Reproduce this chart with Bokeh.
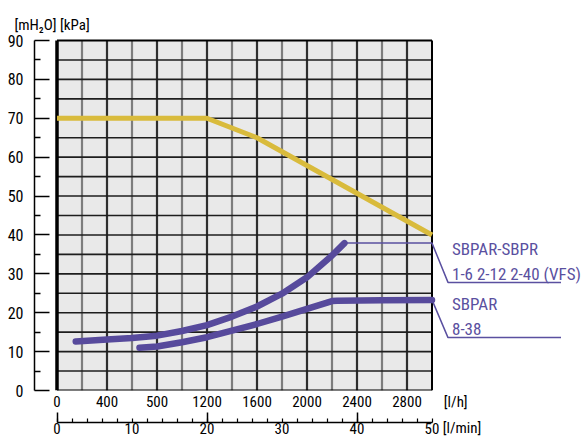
import subprocess
from bokeh.plotting import figure
from bokeh.models import Range1d, LinearAxis, FixedTicker
from bokeh.core.properties import value
from bokeh.embed import file_html
from bokeh.resources import INLINE

# ---- data ----
flow_yellow = [0, 1200, 1600, 3000]
head_yellow = [70, 70, 65, 40]

flow_sbpr = [150, 400, 600, 800, 1000, 1200, 1400, 1600, 1800, 2000, 2200, 2300]
head_sbpr = [12.6, 13.1, 13.5, 14.1, 15.3, 16.8, 19.0, 21.6, 24.9, 29.1, 34.7, 37.9]

flow_sbpar = [660, 800, 1000, 1200, 1400, 1600, 1800, 2000, 2200, 2240, 2600, 3000]
head_sbpar = [11.0, 11.3, 12.4, 13.7, 15.4, 17.1, 19.0, 21.0, 23.0, 23.1, 23.2, 23.3]

y_ticks = list(range(0, 91, 10))
y_minor = list(range(5, 90, 10))
lh_ticks = [0, 400, 800, 1200, 1600, 2000, 2400, 2800]
lh_labels = ["0", "400", "500", "1200", "1600", "2000", "2400", "2800"]
lh_unit = "[l/h]"
lmin_ticks = list(range(0, 51, 2))
lmin_label_ticks = [0, 10, 20, 30, 40, 50]
lmin_long = [0, 20, 40]
lmin_unit = "[l/min]"
y_unit = "[mH\u2082O] [kPa]"

series_names = ["SBPAR-SBPR", "1-6 2-12 2-40 (VFS)", "SBPAR", "8-38"]
series_label_y = [36.3, 30.0, 22.2, 15.8]
leader1_x = [2300, 3000, 3128, 4032]
leader1_y = [37.9, 37.9, 27.8, 27.8]
leader2_x = [3000, 3128, 4032]
leader2_y = [23.3, 13.6, 13.6]

X_MAX, Y_MAX = 3000, 90
grid_x = list(range(200, X_MAX, 200))
grid_y = list(range(5, Y_MAX, 5))


def pick_font(cands, default):
    try:
        out = subprocess.run(["fc-list", ":", "family"], capture_output=True, text=True).stdout
        names = set()
        for line in out.splitlines():
            for n in line.split(","):
                names.add(n.strip())
        for c in cands:
            if c in names:
                return c
    except Exception:
        pass
    return default


FONT_S = pick_font(["Roboto Condensed", "Archivo Narrow", "PT Sans Narrow",
                    "Fira Sans Condensed", "IBM Plex Sans Condensed", "Asap Condensed"], "Roboto")
FONT = value(FONT_S)

# ---- geometry (canvas px) ----
PX_X = 0.125          # px per l/h
PX_Y = 350 / 90       # px per mH2O
LEFT = 34             # left panel width (y axis line)
TOP = 33              # title panel height
ZERO_X = 56.5         # canvas x of flow 0
ZERO_Y = 390          # canvas y of head 0
FW = 584 - LEFT
FH = ZERO_Y - TOP
x0 = -(ZERO_X - LEFT) / PX_X
x1 = x0 + FW / PX_X
y1 = FH / PX_Y

PURPLE = "#574a9c"
PURPLE_T = "#5a50a0"
YELLOW = "#d9bb3c"

p = figure(frame_width=FW, frame_height=FH, output_backend="svg", toolbar_location=None,
           x_range=Range1d(x0, x1), y_range=Range1d(0, y1),
           x_axis_location=None, y_axis_location=None,
           min_border_left=LEFT, min_border_right=0, min_border_top=TOP, min_border_bottom=0)
p.outline_line_color = None
p.xgrid.visible = False
p.ygrid.visible = False
p.background_fill_color = "white"
p.border_fill_color = "white"

p.title.text = y_unit
p.title.align = "left"
p.title.vertical_align = "bottom"
p.title.offset = -(LEFT - 14)
p.title.standoff = 0
p.title.text_font = FONT_S
p.title.text_font_size = "15px"
p.title.text_font_style = "normal"
p.title.text_color = "black"

# plot area background
p.quad(left=[0], right=[X_MAX], bottom=[0], top=[Y_MAX], fill_color="#e9e9e9", line_color=None)
# grid
dark_x = [g for g in grid_x if g % 400 == 0]
light_x = [g for g in grid_x if g % 400 != 0]
p.segment(x0=light_x, x1=light_x, y0=[0] * len(light_x), y1=[Y_MAX] * len(light_x),
          line_color="#7d7d7d", line_width=2.2)
p.segment(x0=dark_x, x1=dark_x, y0=[0] * len(dark_x), y1=[Y_MAX] * len(dark_x),
          line_color="#2e2e2e", line_width=2.2)
p.segment(x0=[0] * len(grid_y), x1=[X_MAX] * len(grid_y), y0=grid_y, y1=grid_y,
          line_color="#1e1e1e", line_width=1.6)
# border
p.segment(x0=[0, 0, X_MAX], x1=[X_MAX, X_MAX, X_MAX], y0=[0, Y_MAX, 0], y1=[0, Y_MAX, Y_MAX],
          line_color="black", line_width=2)
p.segment(x0=[0], x1=[0], y0=[0], y1=[Y_MAX], line_color="black", line_width=3.5)

# curves
p.line(flow_yellow, head_yellow, line_color=YELLOW, line_width=5)
p.line(leader1_x, leader1_y, line_color=PURPLE_T, line_width=1.5)
p.line(leader2_x, leader2_y, line_color=PURPLE_T, line_width=1.5)
p.line(flow_sbpr, head_sbpr, line_color=PURPLE, line_width=6.5, line_cap="round", line_join="round")
p.line(flow_sbpar, head_sbpar, line_color=PURPLE, line_width=6.5, line_cap="round", line_join="round")

p.text(x=[3160] * 4, y=series_label_y, text=series_names, text_font=FONT,
       text_font_size="17px", text_color=PURPLE_T, text_baseline="middle", text_align="left")

# y axis
yax = LinearAxis(bounds=(0, Y_MAX), ticker=FixedTicker(ticks=y_ticks, minor_ticks=y_minor))
yax.axis_line_color = "black"
yax.axis_line_width = 1.5
yax.major_tick_in = 15
yax.major_tick_out = 0
yax.minor_tick_in = 6
yax.minor_tick_out = 0
yax.major_tick_line_width = 1.5
yax.minor_tick_line_width = 1.5
yax.major_label_standoff = 11
yax.major_label_text_font = FONT_S
yax.major_label_text_font_size = "16px"
yax.major_label_text_color = "black"
p.add_layout(yax, "left")

# l/h axis (labels only)
lh_pos = 3190
xax = LinearAxis(ticker=FixedTicker(ticks=lh_ticks + [lh_pos], minor_ticks=[]))
xax.major_label_overrides = {**{t: l for t, l in zip(lh_ticks, lh_labels)}, lh_pos: lh_unit}
xax.axis_line_color = None
xax.major_tick_line_color = None
xax.minor_tick_line_color = None
xax.major_tick_out = 0
xax.major_tick_in = 0
xax.major_label_standoff = 2
xax.major_label_text_font = FONT_S
xax.major_label_text_font_size = "15px"
xax.major_label_text_color = "black"
xax.axis_label = " "
xax.axis_label_standoff = 0
xax.axis_label_text_font_size = "5px"
p.add_layout(xax, "below")

# l/min axis: line, ticks and numbers
p.extra_x_ranges = {"lmin": Range1d(x0 / 60, x1 / 60)}
lax = LinearAxis(x_range_name="lmin", bounds=(0, 50),
                 ticker=FixedTicker(ticks=lmin_ticks, minor_ticks=lmin_long))
lax.major_label_overrides = {t: (str(t) if t in lmin_label_ticks else "") for t in lmin_ticks}
lax.axis_line_color = "black"
lax.axis_line_width = 1.5
lax.major_tick_in = 4
lax.major_tick_out = 0
lax.minor_tick_in = 10
lax.minor_tick_out = 0
lax.major_tick_line_width = 1.2
lax.minor_tick_line_width = 1.5
lax.major_label_standoff = 0
lax.major_label_text_font = FONT_S
lax.major_label_text_font_size = "15px"
lax.major_label_text_color = "black"
p.add_layout(lax, "below")

# l/min unit, lifted onto the same row as the numbers
lmin_unit_pos = 54
lab = LinearAxis(x_range_name="lmin",
                 ticker=FixedTicker(ticks=[lmin_unit_pos], minor_ticks=[]))
lab.major_label_overrides = {lmin_unit_pos: lmin_unit}
lab.axis_line_color = None
lab.major_tick_line_color = None
lab.minor_tick_line_color = None
lab.major_tick_out = 0
lab.major_tick_in = 0
lab.major_label_standoff = -18
lab.major_label_text_font = FONT_S
lab.major_label_text_font_size = "15px"
lab.major_label_text_color = "black"
p.add_layout(lab, "below")

open("out.html", "w").write(file_html(p, INLINE))
